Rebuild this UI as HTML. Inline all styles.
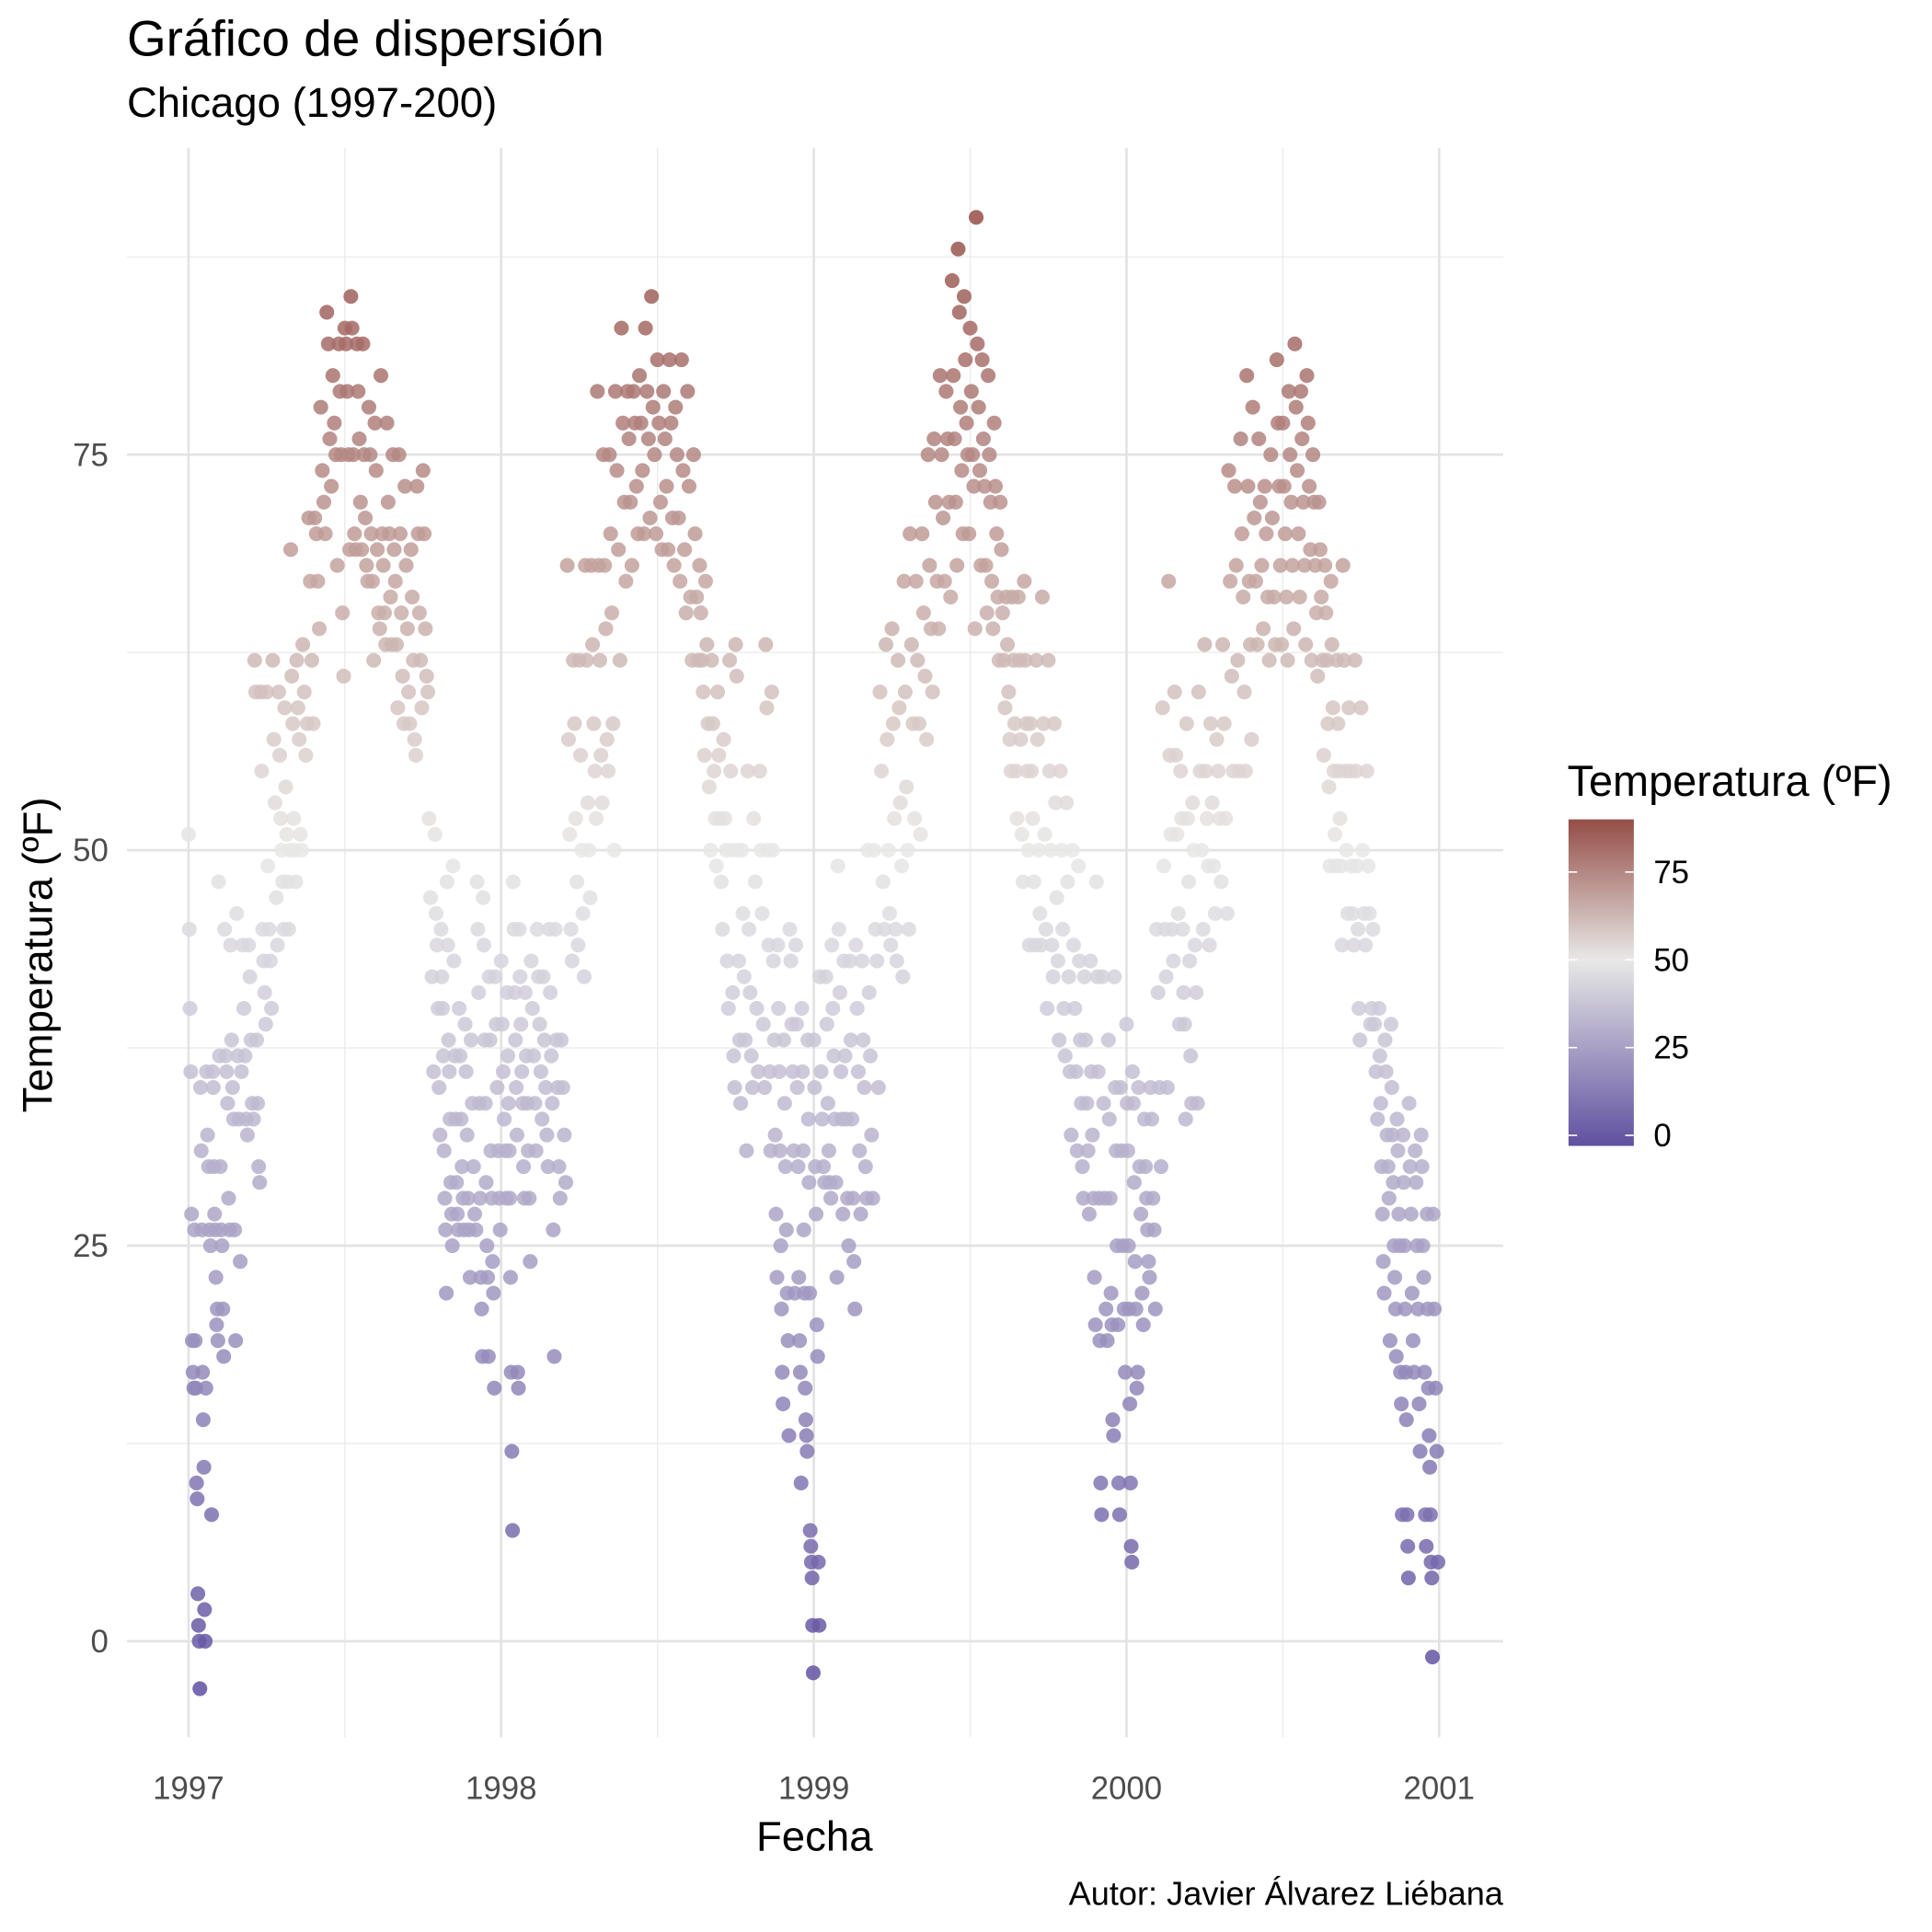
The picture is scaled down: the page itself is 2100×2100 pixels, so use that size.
<!DOCTYPE html>
<html><head><meta charset="utf-8"><style>html,body{margin:0;padding:0;background:#fff}svg{display:block}</style></head>
<body>
<svg id="chart" width="2100" height="2100" viewBox="0 0 1568 1568" xmlns="http://www.w3.org/2000/svg" font-family="Liberation Sans, sans-serif">
<defs><linearGradient id="lg" x1="0" y1="1" x2="0" y2="0">
<stop offset="0" stop-color="#6050a0"/><stop offset="0.57" stop-color="#e8e8e6"/><stop offset="1" stop-color="#954d47"/></linearGradient></defs>
<text x="103" y="45" font-size="41" fill="#000">Gráfico de dispersión</text>
<text x="103" y="95" font-size="34" fill="#000">Chicago (1997-200)</text>
<g id="grid"></g>
<g id="xt"></g>
<g id="yt"></g>
<g id="pts"></g>
<text x="661" y="1502" font-size="34" text-anchor="middle">Fecha</text>
<text transform="translate(42,775) rotate(-90)" font-size="34" text-anchor="middle">Temperatura (ºF)</text>
<text x="1220" y="1546" font-size="27" text-anchor="end">Autor: Javier Álvarez Liébana</text>
<g>
<text x="1272" y="646" font-size="35">Temperatura (ºF)</text>
<rect x="1273" y="665" width="53" height="265" fill="url(#lg)"/>
<g id="lt"></g>
</g>
</svg>
<script>
const yearStarts = [1997, 1998, 1999, 2000];
const xTickLabels = ['1997','1998','1999','2000','2001'];
const yTickLabels = [0,25,50,75];
const legendTicks = [0,25,50,75];
const temps1997 = [[51,45,40,36,27,19,17,16],[26,19,16,10,9,3,1,0,-3],[35,31,26,17,14,11,2,0,16],[36,32,30,26,25,8],[36,35,30,27,26,23,20,21,19],[48,37,30,26,25,21,18],[45,37,36,34,28,26],[44,38,35,33,26,19],[46,37,33,24,36],[44,40,37,33,32],[44,42,38,34,33],[62,60,38,34,30,29],[60,55,45,43,41,39],[60,49,45,43,40],[62,57,53,47,44],[60,56,52,50,48,45],[59,54,51,48,45,50],[69,61,58,52,50,48],[62,59,57,51,50],[63,60,56,58],[71,67,62,58],[71,70,67,64],[78,74,72,70],[84,82,76,73],[80,77,75,68],[82,79,75,65,61],[83,82,79,75,69],[85,83,75,70,69],[82,79,76,72,69],[82,75,71,68,67],[78,75,70,67,62],[77,74,69,65,64],[80,70,68,65,63],[77,72,70,66,63],[75,69,67,63,59],[75,70,65,61,58],[73,68,64,60,58],[69,66,62,57,56],[73,70,65,62,59],[74,70,64,61,60],[52,47,42,36],[51,46,44,40,35,32],[45,42,40,37,31,28,26,22],[48,44,38,36,33,29,27,25],[49,43,37,33,29,27,26],[40,37,33,30,28,26],[39,36,32,28,26,23],[38,34,30,27,26],[48,45,41,34,28,23,21,18],[47,44,38,34,29,25,23,18],[42,38,31,28,24,22,16],[42,39,35,31,28,26]];
const temps1998 = [[43,39,36,33,31,28],[41,37,34,31,28,23,17,12,7],[48,45,41,38,35,32,17,16],[45,42,39,36,34,30,28],[41,37,34,31,28,24],[43,40,37,34,31],[45,42,39,36,33],[42,38,35,32,30],[45,41,37,34,26,18],[45,38,35,30,28],[38,35,32,29],[68,57,51,45,43],[62,58,52,48,44],[62,56,50,46,42],[68,62,53,50,47],[68,63,58,55,52],[79,68,62,56,53],[75,68,64,57,55],[75,70,65,58,50],[79,74,69,62],[83,77,72,67],[79,76,72,68],[79,77,73,70],[80,77,74,70],[83,79,76,71],[85,78,75,70],[81,77,72,69],[79,76,73,69],[81,77,71,68],[78,75,71,67],[81,74,69,65],[79,73,66,62],[75,70,66,62],[68,65,62,60,56],[67,63,58,54,50],[62,58,55,52,49],[60,56,52,48,45],[57,52,50,43,40],[62,55,50,41,37,35],[63,61,50,43,38,34],[50,46,42,38,31],[55,45,41,37,35],[52,48,40,36],[55,50,46,39,35],[63,59,50,44,36,31],[60,50,43,38,32,27,23],[44,40,36,31,25,21,17,15],[38,34,30,26,22,19,13],[45,43,39,36,31,22],[44,39,35,30,23,19,17,10],[40,36,31,26,22,16,14,13,12],[38,33,29,22,7,6,5,4,1,-2]];
const temps1999 = [[38,35,30,27,20,18,5,1],[42,36,33,30,29],[42,39,34,31,29,28],[44,40,37,33,29,23],[49,45,41,36,33,27],[43,37,33,28,25],[43,38,33,28,24,21],[44,40,36,31,27],[43,38,35,30,28],[50,41,37,32,28],[50,45,43,35],[60,55,48,45],[63,57,50,46,44],[64,58,52,45,43],[62,59,53,49,42],[67,60,54,50,45],[70,63,58,52],[67,62,58,51],[70,65,61,57],[75,68,64,60],[76,72,67,64],[80,75,71,67],[79,76,72,66],[86,80,76,72,68],[88,84,78,74,70],[85,81,77,75,70],[83,79,75,73,64],[90,82,78,74,68],[81,76,73,68,65],[80,75,72,67,64],[77,73,70,66,62],[72,69,65,62,59],[66,63,60,57,55],[66,62,58,55,52],[66,62,57,51,48],[67,62,58,55,50,44],[58,55,52,48,44],[62,57,50,46,44],[66,58,51,45,40],[62,55,50,44,42],[58,53,47,43,38],[55,50,45,40,37],[53,48,42,36,32],[50,44,40,36,31],[49,43,38,34,30,28],[42,38,34,31,27],[43,36,32,28,23,20],[48,42,36,28,19,10,8],[42,34,28,21,19],[38,33,28,22,20,14,13],[42,35,31,25,20,10,8],[35,31,25,21,17]];
const temps2000 = [[39,34,31,25,21,15,10,6,5],[36,34,29,24,21,16,17],[35,30,27,22,20],[33,30,28,26,24,23],[35,33,28,26,21],[45,41,35,30],[59,49,45,42,35],[67,56,51,45,43],[60,56,51,46,39],[55,52,45,41,39,33],[58,52,48,43,37,34],[53,50,44,41,34],[60,55,50,45],[63,55,52,49,44],[58,53,49,46],[57,55,52,48],[63,58,52,46],[74,67,61,55],[73,68,62,55],[76,70,66,60,55],[80,73,67,63,57],[78,71,67,63],[76,72,68,64],[73,70,66,62],[75,71,66,63],[81,77,73,68,63],[77,73,70,66,62],[79,75,72,68,64],[82,78,74,70,66],[79,76,72,68,63],[80,77,73,69,62],[75,72,68,65,61],[72,69,66,62,56],[68,65,62,58,54,49],[67,63,59,55,51,49],[62,58,55,52,49,44],[68,62,55,50,46],[59,55,49,46,44],[62,55,49,45,40,38],[59,50,46,44],[55,49,46,39,40],[45,39,36,33],[40,37,34,30,27,24,22],[38,36,32,30,28,19],[39,35,32,29,25,23,21,18],[33,31,27,25,17,15,8],[32,29,25,21,17,14,8,6,4],[34,30,27,22,19,17],[31,29,25,21,15,12],[32,30,25,23,17,8,6],[27,21,16,13,11,8,5,4,-1],[27,21,16,12,5]];
const allTemps = [temps1997, temps1998, temps1999, temps2000];

const NS='http://www.w3.org/2000/svg';
const X0=153, PXY=253.75, Y0=1332, PXT=12.84;
const xs = yr => X0 + (yr-1997)*PXY;
const ys = t => Y0 - t*PXT;
function mk(tag, attrs, parent){const e=document.createElementNS(NS,tag);for(const k in attrs)e.setAttribute(k,attrs[k]);parent.appendChild(e);return e;}
function lerp(a,b,f){return a.map((v,i)=>Math.round(v+(b[i]-v)*f));}
const LO=[96,80,160], MID=[232,232,230], HI=[149,77,71];
function col(t){const tmin=-3,tmax=90,tm=50;let c;if(t<=tm)c=lerp(LO,MID,Math.max(0,(t-tmin)/(tm-tmin)));else c=lerp(MID,HI,Math.min(1,(t-tm)/(tmax-tm)));return `rgb(${c[0]},${c[1]},${c[2]})`;}

const grid=document.getElementById('grid');
[12.5,37.5,62.5,87.5].forEach(v=>{const l=mk('line',{x1:103,x2:1220,y1:ys(v),y2:ys(v),stroke:'#ebebeb','stroke-width':1},grid);

});
[1997.5,1998.5,1999.5,2000.5].forEach(v=>{const l=mk('line',{x1:xs(v),x2:xs(v),y1:120,y2:1410,stroke:'#ebebeb','stroke-width':1},grid);

});
yTickLabels.forEach(v=>{const l=mk('line',{x1:103,x2:1220,y1:ys(v),y2:ys(v),stroke:'#e3e3e3','stroke-width':2},grid);


const t=mk('text',{x:88,y:ys(v)+9,'font-size':26,fill:'#4d4d4d','text-anchor':'end'},document.getElementById('yt'));


t.textContent=v;});
xTickLabels.forEach(s=>{const x=xs(+s);const l=mk('line',{x1:x,x2:x,y1:120,y2:1410,stroke:'#e3e3e3','stroke-width':2},grid);


const t=mk('text',{x:x,y:1460,'font-size':26,fill:'#4d4d4d','text-anchor':'middle'},document.getElementById('xt'));


t.textContent=s;});

const pts=document.getElementById('pts');
allTemps.forEach((year,yi)=>{year.forEach((wk,w)=>{wk.forEach((t,i)=>{
const x=xs(yearStarts[yi]+(w+i/wk.length)/52);
const c=mk('circle',{cx:x,cy:ys(t),r:6,fill:col(t),'fill-opacity':0.85},pts);


});});});

const lt=document.getElementById('lt');
legendTicks.forEach(v=>{const y=930-(v+3)/93*265;
mk('line',{x1:1273,x2:1280,y1:y,y2:y,stroke:'#fff','stroke-width':1.2},lt);
mk('line',{x1:1319,x2:1326,y1:y,y2:y,stroke:'#fff','stroke-width':1.2},lt);
const t=mk('text',{x:1342,y:y+9,'font-size':26,fill:'#000'},lt);


t.textContent=v;});
</script>
</body></html>
